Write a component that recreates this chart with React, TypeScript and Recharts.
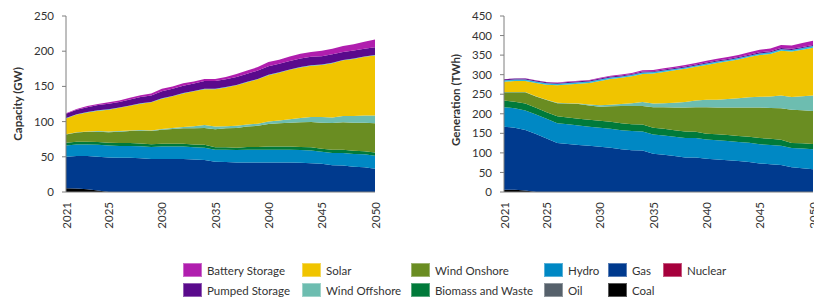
import React from 'react';
import { AreaChart, Area, XAxis, YAxis } from 'recharts';

const years = [
  2021, 2022, 2023, 2024, 2025, 2026, 2027, 2028, 2029, 2030,
  2031, 2032, 2033, 2034, 2035, 2036, 2037, 2038, 2039, 2040,
  2041, 2042, 2043, 2044, 2045, 2046, 2047, 2048, 2049, 2050,
];
const yearTicks = [2021, 2025, 2030, 2035, 2040, 2045, 2050];

// capacity (GW)
const capCoal = [5.5, 5, 4, 2, 0, 0, 0, 0, 0, 0, 0, 0, 0, 0, 0, 0, 0, 0, 0, 0, 0, 0, 0, 0, 0, 0, 0, 0, 0, 0];
const capGas = [44.5, 46, 47, 48, 49, 48.5, 48.5, 48, 47, 47, 47, 47, 46, 45.5, 43, 42.5, 42, 42, 42, 42, 42, 42, 41.5, 41, 40, 38, 37.5, 36, 35, 33];
const capHydro = [16, 16.5, 16.5, 17, 17, 17, 17, 17, 17, 17.5, 17.5, 17.5, 17.5, 17.5, 17, 17.5, 17.5, 18, 18, 18, 18, 18, 18, 18, 17, 17.5, 18, 18, 18.5, 18.5];
const capBiomass = [4, 4, 4, 4, 4, 4, 4, 4, 4, 4, 4, 4, 4, 4, 3.5, 3.5, 3.5, 4, 4, 4.5, 4.5, 4.5, 4.5, 4.5, 4.5, 4.5, 4.5, 4.5, 4.5, 4.5];
const capOnshore = [11.5, 13, 14, 14.5, 15, 16, 17, 18, 18.5, 20, 21, 22, 23, 24, 25.5, 27, 28, 29, 30, 32, 33, 34, 35, 36, 37, 38, 39, 40, 40.5, 41.5];
const capOffshore = [0.5, 0.5, 0.5, 1, 1, 1, 1, 1, 1, 1, 1.5, 2, 3, 4, 4, 3, 3, 3, 3, 3.5, 4, 5, 6, 7, 8, 8, 9, 9.5, 10, 11];
const capSolar = [22.5, 25, 27, 29, 31, 33, 35, 37.5, 40, 43, 45, 47.5, 49.5, 51, 53, 55, 57.5, 60, 63, 66, 68, 70, 72, 73, 74, 77, 79, 81, 83.5, 85.5];
const capOther = [0.5, 0.5, 0.5, 0.5, 0.5, 0.5, 0.5, 0.5, 0.5, 0.5, 0.5, 0.5, 0.5, 0.5, 0.5, 0.5, 0.5, 0.5, 0.5, 0.5, 0.5, 0.5, 0.5, 0.5, 0.5, 0.5, 0.5, 0.5, 0.5, 0.5];
const capPumped = [6, 6.5, 7, 7.5, 8, 8, 8.5, 9, 9, 10, 10, 10.5, 10.5, 11, 11, 11, 11.5, 11.5, 12, 12, 12, 12, 12, 12, 12, 12, 11.5, 11.5, 11, 11];
const capBattery = [1, 1, 1.5, 1.5, 2, 2, 2.5, 2.5, 3, 3.5, 3.5, 3.5, 3, 3, 3, 3.5, 4, 4.5, 5, 6, 6, 6.5, 7, 7, 7.5, 8, 8.5, 9, 10, 11];

// generation (TWh)
const genCoal = [6, 6, 4, 0, 0, 0, 0, 0, 0, 0, 0, 0, 0, 0, 0, 0, 0, 0, 0, 0, 0, 0, 0, 0, 0, 0, 0, 0, 0, 0];
const genGas = [161, 158, 154.5, 148, 137, 125, 123, 120, 118, 116, 113, 109, 107, 106, 98, 95, 92, 88, 88, 85, 83, 81, 79, 77, 73, 71, 69, 63, 61, 58];
const genHydro = [50, 50, 50, 50, 50, 51, 50, 50, 49, 48.5, 49, 49, 49, 49, 49, 49.5, 49.5, 50, 50, 49.5, 49.5, 49.5, 49, 49, 49, 49, 49, 49.5, 50, 51];
const genBiomass = [17, 17, 18, 17.5, 17, 17.5, 17.5, 17.5, 17.5, 17.5, 17.5, 17.5, 17.5, 17.5, 17, 17, 16.5, 16.5, 16, 14.5, 15, 15.5, 15.5, 15.5, 16, 16, 15.5, 13, 13.5, 13.5];
const genOnshore = [21, 24, 28.5, 28.5, 31, 33.5, 35.5, 37.5, 36.5, 36, 39.5, 44.5, 46.5, 47.5, 53, 55.5, 58, 61.5, 63, 68, 68.5, 70, 72.5, 74.5, 78, 79, 80.5, 84.5, 84.5, 84.5];
const genOffshore = [0.5, 0.5, 0.5, 0.5, 1, 1, 1, 1.5, 2.5, 3.5, 4, 5, 7, 10, 9, 10, 12, 14, 17, 19, 20, 22, 24, 26, 27.5, 29, 33, 33, 36, 40];
const genSolar = [26.5, 28.5, 28.5, 34.5, 38.5, 45, 48, 50.5, 55.5, 62.5, 66, 67, 69, 72, 77, 80, 83, 85, 86, 89, 94, 96, 99, 103, 106.5, 109, 114, 116, 119, 122];
const genOther = [3.5, 3.5, 3.5, 3.5, 3.5, 3.5, 3.5, 3.5, 3.5, 3.5, 3.5, 3.5, 3.5, 3.5, 3.5, 3.5, 3.5, 3.5, 3.5, 3.5, 3.5, 3.5, 3.5, 3.5, 4, 4, 4, 4, 4, 4];
const genPumped = [2.5, 2.5, 2.5, 2.5, 2.5, 2.5, 2.5, 2.5, 2.5, 2.5, 2.5, 2.5, 2.5, 2.5, 2.5, 2.5, 2.5, 2.5, 2.5, 2.5, 2.5, 2.5, 2.5, 2.5, 3, 3, 3, 3, 3, 3];
const genBattery = [0.5, 0.5, 1, 1, 1, 1, 1.5, 1.5, 1.5, 2, 2, 2.5, 2.5, 3, 3, 3.5, 3.5, 4, 4, 4.5, 5, 5, 5.5, 6, 6.5, 7, 8, 8.5, 10, 11];

const colors: Record<string, string> = {
  battery: '#b01eae',
  pumped: '#5a0a8c',
  solar: '#f0c400',
  offshore: '#6dbdb0',
  onshore: '#6a8d22',
  biomass: '#007a3a',
  hydro: '#0088c4',
  gas: '#003a8e',
  nuclear: '#a6003c',
  oil: '#56616b',
  coal: '#000000',
  other: '#2fb8e0',
};

// stacking order, bottom to top
const stackKeys = ['coal', 'gas', 'hydro', 'biomass', 'onshore', 'offshore', 'solar', 'other', 'pumped', 'battery'];

const legendRows = [
  [['battery', 'Battery Storage'], ['solar', 'Solar'], ['onshore', 'Wind Onshore'], ['hydro', 'Hydro'], ['gas', 'Gas'], ['nuclear', 'Nuclear']],
  [['pumped', 'Pumped Storage'], ['offshore', 'Wind Offshore'], ['biomass', 'Biomass and Waste'], ['oil', 'Oil'], ['coal', 'Coal']],
];
const legendX = [183, 302, 411, 544, 608, 663];

function buildRows(series: Record<string, number[]>) {
  return years.map((year, i) => {
    const row: Record<string, number> = { year };
    for (const k of Object.keys(series)) row[k] = series[k][i];
    return row;
  });
}

const capRows = buildRows({
  coal: capCoal, gas: capGas, hydro: capHydro, biomass: capBiomass, onshore: capOnshore,
  offshore: capOffshore, solar: capSolar, other: capOther, pumped: capPumped, battery: capBattery,
});
const genRows = buildRows({
  coal: genCoal, gas: genGas, hydro: genHydro, biomass: genBiomass, onshore: genOnshore,
  offshore: genOffshore, solar: genSolar, other: genOther, pumped: genPumped, battery: genBattery,
});

const FONT = 'Lato, "Open Sans", sans-serif';
const TEXT = '#333';

const YearTick = (props: any) => {
  const { x, y, payload } = props;
  const ty = y + 2;
  return (
    <text x={x} y={ty} transform={`rotate(-90 ${x} ${ty})`} textAnchor="end" dominantBaseline="central"
      fontSize={11.5} fill={TEXT} fontFamily={FONT}>
      {payload.value}
    </text>
  );
};

function StackChart({ rows, yMax, yTicks, width, rightMargin }: any) {
  return (
    <AreaChart width={width} height={240} data={rows} margin={{ top: 16, right: rightMargin, bottom: 0, left: 0 }}>
      <XAxis dataKey="year" type="number" domain={[2021, 2050]} ticks={yearTicks} interval={0}
        tick={<YearTick />} tickLine={false} axisLine={{ stroke: '#7f7f7f' }} height={48} />
      <YAxis type="number" domain={[0, yMax]} ticks={yTicks} interval={0} width={66}
        tickSize={4} tickMargin={8} tickLine={{ stroke: '#7f7f7f' }} axisLine={{ stroke: '#7f7f7f' }}
        tick={{ fontSize: 11.5, fill: TEXT, fontFamily: FONT }} />
      {stackKeys.map((k) => (
        <Area key={k} dataKey={k} stackId="s" type="linear" fill={colors[k]} fillOpacity={1}
          stroke="none" isAnimationActive={false} />
      ))}
    </AreaChart>
  );
}

function AxisTitle({ text, cx, cy }: { text: string; cx: number; cy: number }) {
  return (
    <div style={{
      position: 'absolute', left: cx, top: cy, transform: 'translate(-50%, -50%) rotate(-90deg)',
      whiteSpace: 'nowrap', fontSize: 11.5, fontWeight: 700, color: TEXT, fontFamily: FONT,
    }}>
      {text}
    </div>
  );
}

export default function App() {
  return (
    <div style={{ position: 'absolute', left: 0, top: 0, width: 814, height: 302, overflow: 'hidden', background: '#fff', fontFamily: FONT }}>
      <div style={{ position: 'absolute', left: 0, top: 0 }}>
        <StackChart rows={capRows} yMax={250} yTicks={[0, 50, 100, 150, 200, 250]} width={410} rightMargin={35} />
      </div>
      <div style={{ position: 'absolute', left: 438, top: 0 }}>
        <StackChart rows={genRows} yMax={450} yTicks={[0, 50, 100, 150, 200, 250, 300, 350, 400, 450]} width={400} rightMargin={25} />
      </div>
      <AxisTitle text="Capacity (GW)" cx={17} cy={104} />
      <AxisTitle text="Generation (TWh)" cx={455} cy={100} />
      {legendRows.map((row, r) =>
        row.map(([key, label], c) => (
          <div key={key} style={{ position: 'absolute', left: legendX[c], top: 263 + r * 20, display: 'flex', alignItems: 'center', height: 14 }}>
            <div style={{ width: 19, height: 14, background: colors[key], boxSizing: 'border-box', border: '1px solid rgba(255,255,255,0.35)' }} />
            <span style={{ marginLeft: 5, fontSize: 11.5, color: TEXT, whiteSpace: 'nowrap' }}>{label}</span>
          </div>
        ))
      )}
    </div>
  );
}
